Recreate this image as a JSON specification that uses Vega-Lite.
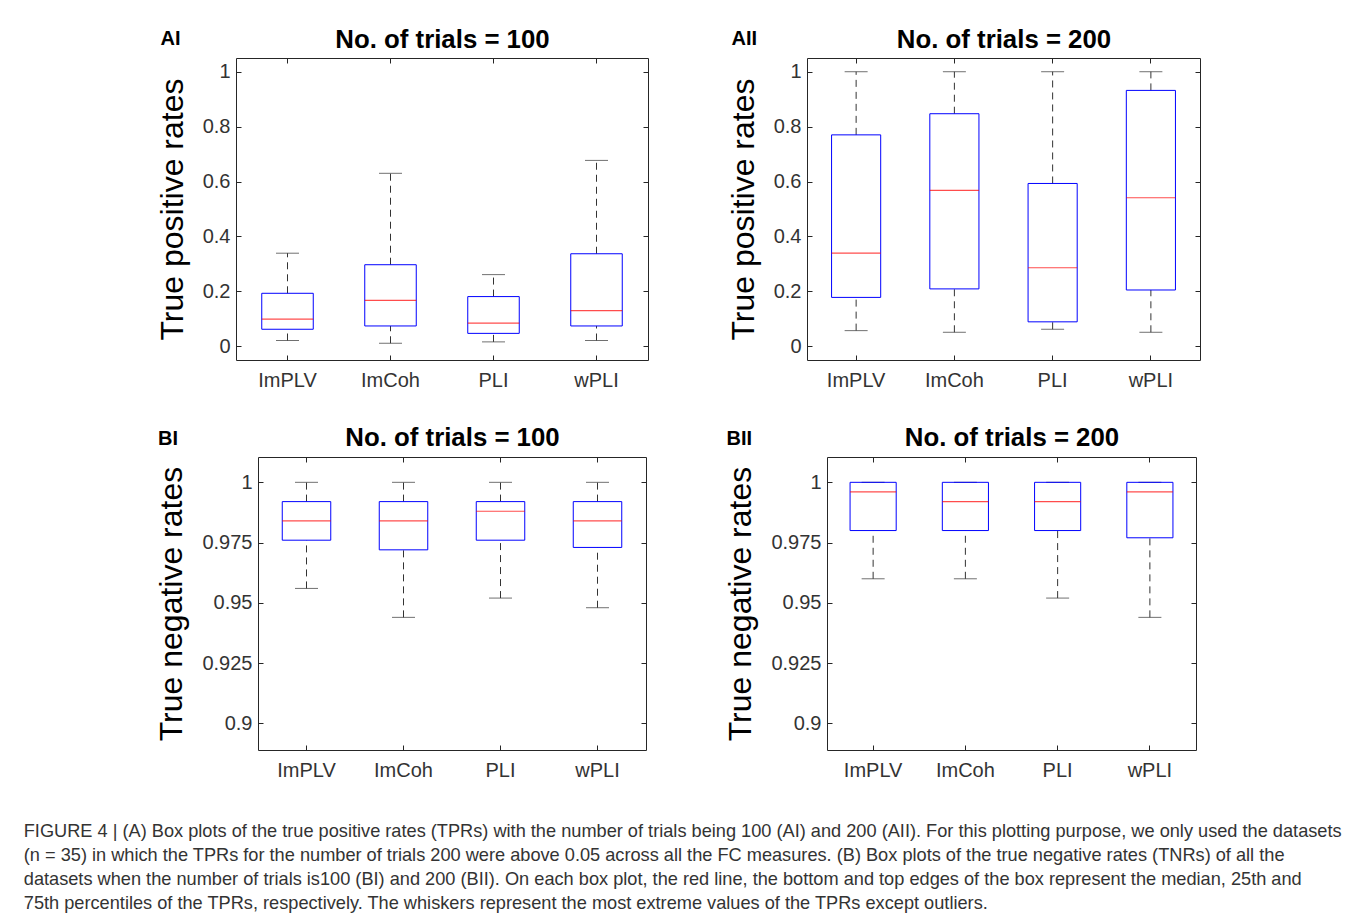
{
  "$schema": "https://vega.github.io/schema/vega-lite/v6.json",
  "background": "white",
  "padding": {"left": 23, "top": 25, "right": 5, "bottom": 5},
  "datasets": {
    "AI": [
      {"measure": "ImPLV", "lower": 0.021, "q1": 0.062, "median": 0.099, "q3": 0.193, "upper": 0.339},
      {"measure": "ImCoh", "lower": 0.011, "q1": 0.074, "median": 0.167, "q3": 0.297, "upper": 0.630},
      {"measure": "PLI", "lower": 0.016, "q1": 0.047, "median": 0.084, "q3": 0.181, "upper": 0.261},
      {"measure": "wPLI", "lower": 0.021, "q1": 0.074, "median": 0.130, "q3": 0.337, "upper": 0.677}
    ],
    "AII": [
      {"measure": "ImPLV", "lower": 0.057, "q1": 0.178, "median": 0.339, "q3": 0.770, "upper": 1.0},
      {"measure": "ImCoh", "lower": 0.051, "q1": 0.209, "median": 0.568, "q3": 0.847, "upper": 1.0},
      {"measure": "PLI", "lower": 0.062, "q1": 0.089, "median": 0.286, "q3": 0.593, "upper": 1.0},
      {"measure": "wPLI", "lower": 0.051, "q1": 0.205, "median": 0.541, "q3": 0.932, "upper": 1.0}
    ],
    "BI": [
      {"measure": "ImPLV", "lower": 0.956, "q1": 0.976, "median": 0.984, "q3": 0.992, "upper": 1.0},
      {"measure": "ImCoh", "lower": 0.944, "q1": 0.972, "median": 0.984, "q3": 0.992, "upper": 1.0},
      {"measure": "PLI", "lower": 0.952, "q1": 0.976, "median": 0.988, "q3": 0.992, "upper": 1.0},
      {"measure": "wPLI", "lower": 0.948, "q1": 0.973, "median": 0.984, "q3": 0.992, "upper": 1.0}
    ],
    "BII": [
      {"measure": "ImPLV", "lower": 0.960, "q1": 0.980, "median": 0.996, "q3": 1.0, "upper": 1.0},
      {"measure": "ImCoh", "lower": 0.960, "q1": 0.980, "median": 0.992, "q3": 1.0, "upper": 1.0},
      {"measure": "PLI", "lower": 0.952, "q1": 0.980, "median": 0.992, "q3": 1.0, "upper": 1.0},
      {"measure": "wPLI", "lower": 0.944, "q1": 0.977, "median": 0.996, "q3": 1.0, "upper": 1.0}
    ],
    "spacer": [{"s": 0}]
  },
  "title": {
    "text": [
      "FIGURE 4 | (A) Box plots of the true positive rates (TPRs) with the number of trials being 100 (AI) and 200 (AII). For this plotting purpose, we only used the datasets",
      "(n = 35) in which the TPRs for the number of trials 200 were above 0.05 across all the FC measures. (B) Box plots of the true negative rates (TNRs) of all the",
      "datasets when the number of trials is100 (BI) and 200 (BII). On each box plot, the red line, the bottom and top edges of the box represent the median, 25th and",
      "75th percentiles of the TPRs, respectively. The whiskers represent the most extreme values of the TPRs except outliers."
    ],
    "orient": "bottom",
    "anchor": "start",
    "frame": "bounds",
    "align": "left",
    "dx": -48,
    "offset": 42,
    "font": "Liberation Sans",
    "fontSize": 18.2,
    "fontWeight": "normal",
    "lineHeight": 24,
    "color": "#333333"
  },
  "spacing": 32,
  "vconcat": [
    {
      "spacing": 77,
      "hconcat": [
        {"width": 1, "height": 1, "data": {"name": "spacer"}, "mark": {"type": "point", "opacity": 0}, "encoding": {}, "view": {"stroke": null}},
        {
          "width": 412, "height": 302,
          "data": {"name": "AI"},
          "layer": [
            {"mark": {"type": "rule", "color": "#333333", "strokeWidth": 1, "strokeDash": [7, 5]},
             "encoding": {
               "x": {"field": "measure", "type": "nominal", "sort": ["ImPLV", "ImCoh", "PLI", "wPLI"], "scale": {"type": "band", "paddingInner": 0, "paddingOuter": 0}, "axis": {"orient": "bottom", "title": null, "labelAngle": 0, "labelPadding": 15}},
               "y": {"field": "lower", "type": "quantitative", "scale": {"domain": [-0.05, 1.05], "nice": false, "zero": false}, "axis": {"orient": "left", "title": "True positive rates", "values": [0, 0.2, 0.4, 0.6, 0.8, 1], "format": ".1~f", "labelPadding": 11, "titlePadding": 13}},
               "y2": {"field": "q1"}}},
            {"mark": {"type": "rule", "color": "#333333", "strokeWidth": 1, "strokeDash": [7, 5]},
             "encoding": {
               "x": {"field": "measure", "type": "nominal", "sort": ["ImPLV", "ImCoh", "PLI", "wPLI"], "axis": null},
               "y": {"field": "q3", "type": "quantitative", "axis": null},
               "y2": {"field": "upper"}}},
            {"mark": {"type": "tick", "color": "#333333", "size": 23, "thickness": 1},
             "encoding": {
               "x": {"field": "measure", "type": "nominal", "sort": ["ImPLV", "ImCoh", "PLI", "wPLI"], "axis": null},
               "y": {"field": "lower", "type": "quantitative", "axis": null}}},
            {"mark": {"type": "tick", "color": "#333333", "size": 23, "thickness": 1},
             "encoding": {
               "x": {"field": "measure", "type": "nominal", "sort": ["ImPLV", "ImCoh", "PLI", "wPLI"], "axis": null},
               "y": {"field": "upper", "type": "quantitative", "axis": null}}},
            {"mark": {"type": "bar", "width": {"band": 0.5}, "fill": "transparent", "stroke": "#0000ff", "strokeWidth": 1},
             "encoding": {
               "x": {"field": "measure", "type": "nominal", "sort": ["ImPLV", "ImCoh", "PLI", "wPLI"], "axis": null},
               "y": {"field": "q1", "type": "quantitative", "axis": null},
               "y2": {"field": "q3"}}},
            {"mark": {"type": "tick", "color": "#ff0000", "size": 51.5, "thickness": 1.2},
             "encoding": {
               "x": {"field": "measure", "type": "nominal", "sort": ["ImPLV", "ImCoh", "PLI", "wPLI"], "axis": null},
               "y": {"field": "median", "type": "quantitative", "axis": null}}},
            {"mark": {"type": "tick", "opacity": 0},
             "encoding": {
               "x": {"field": "measure", "type": "nominal", "sort": ["ImPLV", "ImCoh", "PLI", "wPLI"], "axis": {"orient": "top", "labels": false, "title": "No. of trials = 100", "titleFontSize": 25.8, "titleFontWeight": "bold", "titleColor": "#000000", "titleY": -11, "titleBaseline": "alphabetic"}},
               "y": {"field": "median", "type": "quantitative", "axis": {"orient": "right", "labels": false, "values": [0, 0.2, 0.4, 0.6, 0.8, 1], "title": "AI", "titleAngle": 0, "titleX": -488, "titleY": -14, "titleAlign": "left", "titleBaseline": "alphabetic", "titleFontSize": 20, "titleFontWeight": "bold"}}}}
          ],
          "resolve": {"axis": {"x": "independent", "y": "independent"}}
        },
        {
          "width": 393, "height": 302,
          "data": {"name": "AII"},
          "layer": [
            {"mark": {"type": "rule", "color": "#333333", "strokeWidth": 1, "strokeDash": [7, 5]},
             "encoding": {
               "x": {"field": "measure", "type": "nominal", "sort": ["ImPLV", "ImCoh", "PLI", "wPLI"], "scale": {"type": "band", "paddingInner": 0, "paddingOuter": 0}, "axis": {"orient": "bottom", "title": null, "labelAngle": 0, "labelPadding": 15}},
               "y": {"field": "lower", "type": "quantitative", "scale": {"domain": [-0.05, 1.05], "nice": false, "zero": false}, "axis": {"orient": "left", "title": "True positive rates", "values": [0, 0.2, 0.4, 0.6, 0.8, 1], "format": ".1~f", "labelPadding": 11, "titlePadding": 13}},
               "y2": {"field": "q1"}}},
            {"mark": {"type": "rule", "color": "#333333", "strokeWidth": 1, "strokeDash": [7, 5]},
             "encoding": {
               "x": {"field": "measure", "type": "nominal", "sort": ["ImPLV", "ImCoh", "PLI", "wPLI"], "axis": null},
               "y": {"field": "q3", "type": "quantitative", "axis": null},
               "y2": {"field": "upper"}}},
            {"mark": {"type": "tick", "color": "#333333", "size": 23, "thickness": 1},
             "encoding": {
               "x": {"field": "measure", "type": "nominal", "sort": ["ImPLV", "ImCoh", "PLI", "wPLI"], "axis": null},
               "y": {"field": "lower", "type": "quantitative", "axis": null}}},
            {"mark": {"type": "tick", "color": "#333333", "size": 23, "thickness": 1},
             "encoding": {
               "x": {"field": "measure", "type": "nominal", "sort": ["ImPLV", "ImCoh", "PLI", "wPLI"], "axis": null},
               "y": {"field": "upper", "type": "quantitative", "axis": null}}},
            {"mark": {"type": "bar", "width": {"band": 0.5}, "fill": "transparent", "stroke": "#0000ff", "strokeWidth": 1},
             "encoding": {
               "x": {"field": "measure", "type": "nominal", "sort": ["ImPLV", "ImCoh", "PLI", "wPLI"], "axis": null},
               "y": {"field": "q1", "type": "quantitative", "axis": null},
               "y2": {"field": "q3"}}},
            {"mark": {"type": "tick", "color": "#ff0000", "size": 49, "thickness": 1.2},
             "encoding": {
               "x": {"field": "measure", "type": "nominal", "sort": ["ImPLV", "ImCoh", "PLI", "wPLI"], "axis": null},
               "y": {"field": "median", "type": "quantitative", "axis": null}}},
            {"mark": {"type": "tick", "opacity": 0},
             "encoding": {
               "x": {"field": "measure", "type": "nominal", "sort": ["ImPLV", "ImCoh", "PLI", "wPLI"], "axis": {"orient": "top", "labels": false, "title": "No. of trials = 200", "titleFontSize": 25.8, "titleFontWeight": "bold", "titleColor": "#000000", "titleY": -11, "titleBaseline": "alphabetic"}},
               "y": {"field": "median", "type": "quantitative", "axis": {"orient": "right", "labels": false, "values": [0, 0.2, 0.4, 0.6, 0.8, 1], "title": "AII", "titleAngle": 0, "titleX": -469, "titleY": -13.5, "titleAlign": "left", "titleBaseline": "alphabetic", "titleFontSize": 20, "titleFontWeight": "bold"}}}}
          ],
          "resolve": {"axis": {"x": "independent", "y": "independent"}}
        }
      ]
    },
    {
      "spacing": 77,
      "hconcat": [
        {"width": 1, "height": 1, "data": {"name": "spacer"}, "mark": {"type": "point", "opacity": 0}, "encoding": {}, "view": {"stroke": null}},
        {
          "width": 388, "height": 293,
          "data": {"name": "BI"},
          "layer": [
            {"mark": {"type": "rule", "color": "#333333", "strokeWidth": 1, "strokeDash": [7, 5]},
             "encoding": {
               "x": {"field": "measure", "type": "nominal", "sort": ["ImPLV", "ImCoh", "PLI", "wPLI"], "scale": {"type": "band", "paddingInner": 0, "paddingOuter": 0}, "axis": {"orient": "bottom", "title": null, "labelAngle": 0, "labelPadding": 15}},
               "y": {"field": "lower", "type": "quantitative", "scale": {"domain": [0.889, 1.0105], "nice": false, "zero": false}, "axis": {"orient": "left", "title": "True negative rates", "values": [0.9, 0.925, 0.95, 0.975, 1], "format": ".3~f", "labelPadding": 11, "titlePadding": 13}},
               "y2": {"field": "q1"}}},
            {"mark": {"type": "rule", "color": "#333333", "strokeWidth": 1, "strokeDash": [7, 5]},
             "encoding": {
               "x": {"field": "measure", "type": "nominal", "sort": ["ImPLV", "ImCoh", "PLI", "wPLI"], "axis": null},
               "y": {"field": "q3", "type": "quantitative", "axis": null},
               "y2": {"field": "upper"}}},
            {"mark": {"type": "tick", "color": "#333333", "size": 23, "thickness": 1},
             "encoding": {
               "x": {"field": "measure", "type": "nominal", "sort": ["ImPLV", "ImCoh", "PLI", "wPLI"], "axis": null},
               "y": {"field": "lower", "type": "quantitative", "axis": null}}},
            {"mark": {"type": "tick", "color": "#333333", "size": 23, "thickness": 1},
             "encoding": {
               "x": {"field": "measure", "type": "nominal", "sort": ["ImPLV", "ImCoh", "PLI", "wPLI"], "axis": null},
               "y": {"field": "upper", "type": "quantitative", "axis": null}}},
            {"mark": {"type": "bar", "width": {"band": 0.5}, "fill": "transparent", "stroke": "#0000ff", "strokeWidth": 1},
             "encoding": {
               "x": {"field": "measure", "type": "nominal", "sort": ["ImPLV", "ImCoh", "PLI", "wPLI"], "axis": null},
               "y": {"field": "q1", "type": "quantitative", "axis": null},
               "y2": {"field": "q3"}}},
            {"mark": {"type": "tick", "color": "#ff0000", "size": 48.5, "thickness": 1.2},
             "encoding": {
               "x": {"field": "measure", "type": "nominal", "sort": ["ImPLV", "ImCoh", "PLI", "wPLI"], "axis": null},
               "y": {"field": "median", "type": "quantitative", "axis": null}}},
            {"mark": {"type": "tick", "opacity": 0},
             "encoding": {
               "x": {"field": "measure", "type": "nominal", "sort": ["ImPLV", "ImCoh", "PLI", "wPLI"], "axis": {"orient": "top", "labels": false, "title": "No. of trials = 100", "titleFontSize": 25.8, "titleFontWeight": "bold", "titleColor": "#000000", "titleY": -12, "titleBaseline": "alphabetic"}},
               "y": {"field": "median", "type": "quantitative", "axis": {"orient": "right", "labels": false, "values": [0.9, 0.925, 0.95, 0.975, 1], "title": "BI", "titleAngle": 0, "titleX": -488.5, "titleY": -12.5, "titleAlign": "left", "titleBaseline": "alphabetic", "titleFontSize": 20, "titleFontWeight": "bold"}}}}
          ],
          "resolve": {"axis": {"x": "independent", "y": "independent"}}
        },
        {
          "width": 369, "height": 293,
          "data": {"name": "BII"},
          "layer": [
            {"mark": {"type": "rule", "color": "#333333", "strokeWidth": 1, "strokeDash": [7, 5]},
             "encoding": {
               "x": {"field": "measure", "type": "nominal", "sort": ["ImPLV", "ImCoh", "PLI", "wPLI"], "scale": {"type": "band", "paddingInner": 0, "paddingOuter": 0}, "axis": {"orient": "bottom", "title": null, "labelAngle": 0, "labelPadding": 15}},
               "y": {"field": "lower", "type": "quantitative", "scale": {"domain": [0.889, 1.0105], "nice": false, "zero": false}, "axis": {"orient": "left", "title": "True negative rates", "values": [0.9, 0.925, 0.95, 0.975, 1], "format": ".3~f", "labelPadding": 11, "titlePadding": 13}},
               "y2": {"field": "q1"}}},
            {"mark": {"type": "rule", "color": "#333333", "strokeWidth": 1, "strokeDash": [7, 5]},
             "encoding": {
               "x": {"field": "measure", "type": "nominal", "sort": ["ImPLV", "ImCoh", "PLI", "wPLI"], "axis": null},
               "y": {"field": "q3", "type": "quantitative", "axis": null},
               "y2": {"field": "upper"}}},
            {"mark": {"type": "tick", "color": "#333333", "size": 23, "thickness": 1},
             "encoding": {
               "x": {"field": "measure", "type": "nominal", "sort": ["ImPLV", "ImCoh", "PLI", "wPLI"], "axis": null},
               "y": {"field": "lower", "type": "quantitative", "axis": null}}},
            {"mark": {"type": "tick", "color": "#333333", "size": 23, "thickness": 1},
             "encoding": {
               "x": {"field": "measure", "type": "nominal", "sort": ["ImPLV", "ImCoh", "PLI", "wPLI"], "axis": null},
               "y": {"field": "upper", "type": "quantitative", "axis": null}}},
            {"mark": {"type": "bar", "width": {"band": 0.5}, "fill": "transparent", "stroke": "#0000ff", "strokeWidth": 1},
             "encoding": {
               "x": {"field": "measure", "type": "nominal", "sort": ["ImPLV", "ImCoh", "PLI", "wPLI"], "axis": null},
               "y": {"field": "q1", "type": "quantitative", "axis": null},
               "y2": {"field": "q3"}}},
            {"mark": {"type": "tick", "color": "#ff0000", "size": 46, "thickness": 1.2},
             "encoding": {
               "x": {"field": "measure", "type": "nominal", "sort": ["ImPLV", "ImCoh", "PLI", "wPLI"], "axis": null},
               "y": {"field": "median", "type": "quantitative", "axis": null}}},
            {"mark": {"type": "tick", "opacity": 0},
             "encoding": {
               "x": {"field": "measure", "type": "nominal", "sort": ["ImPLV", "ImCoh", "PLI", "wPLI"], "axis": {"orient": "top", "labels": false, "title": "No. of trials = 200", "titleFontSize": 25.8, "titleFontWeight": "bold", "titleColor": "#000000", "titleY": -12, "titleBaseline": "alphabetic"}},
               "y": {"field": "median", "type": "quantitative", "axis": {"orient": "right", "labels": false, "values": [0.9, 0.925, 0.95, 0.975, 1], "title": "BII", "titleAngle": 0, "titleX": -470, "titleY": -12.5, "titleAlign": "left", "titleBaseline": "alphabetic", "titleFontSize": 20, "titleFontWeight": "bold"}}}}
          ],
          "resolve": {"axis": {"x": "independent", "y": "independent"}}
        }
      ]
    }
  ],
  "config": {
    "font": "Liberation Sans",
    "view": {"stroke": "#262626", "strokeWidth": 1},
    "axis": {
      "grid": false,
      "domain": false,
      "tickColor": "#262626",
      "tickSize": -5,
      "tickWidth": 1,
      "labelFont": "Liberation Sans",
      "labelFontSize": 20,
      "labelColor": "#333333",
      "titleFont": "Liberation Sans",
      "titleFontSize": 32,
      "titleFontWeight": "normal",
      "titleColor": "#000000"
    },
    "title": {"font": "Liberation Sans"}
  }
}
